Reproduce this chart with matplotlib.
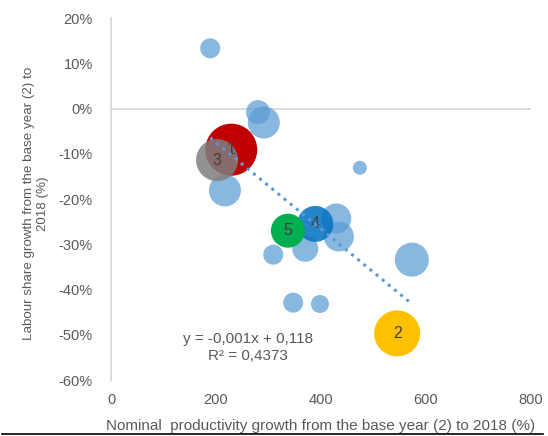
import numpy as np
import matplotlib.pyplot as plt
from matplotlib.lines import Line2D

plt.rcParams['font.family'] = ['Liberation Sans', 'DejaVu Sans']

# 名义生产率增长 (%) 与劳动份额增长
prod_growth = [189, 280, 291, 217, 474, 370, 309, 429, 434, 347, 398, 573]
labour_growth = [0.133, -0.008, -0.031, -0.181, -0.131, -0.310, -0.323,
                 -0.243, -0.283, -0.429, -0.432, -0.334]
bubble_size = [10, 12, 16, 16, 7, 13, 10, 15, 15, 10, 9, 17]

# 标注的国家 1-5
hl_labels = ['1', '3', '5', '4', '2']
hl_x = [229, 202, 337, 389, 545]
hl_y = [-0.091, -0.114, -0.270, -0.255, -0.497]
hl_size = [26, 21, 17, 18, 23]
hl_colors = ['#C00000', '#7F7F7F', '#00B050', '#0070C0', '#FFC000']
hl_alpha = [1.0, 0.85, 1.0, 0.85, 1.0]

# 趋势线
slope = -0.000956
intercept = 0.116

yticks = [-60, -50, -40, -30, -20, -10, 0, 10, 20]

fig = plt.figure(figsize=(5.48, 4.36), dpi=100)
ax = fig.add_axes([0.2026, 0.1284, 0.7664, 0.8303])


def to_s(r):
    return (2 * np.asarray(r) * 0.72) ** 2


ax.scatter(prod_growth, labour_growth, s=to_s(bubble_size), c='#5B9BD5',
           alpha=0.72, edgecolors='none', zorder=3)

order = [0, 1, 4, 3, 2]  # 绘制顺序
for i in order:
    ax.scatter(hl_x[i], hl_y[i], s=to_s(hl_size[i]), c=hl_colors[i],
               alpha=hl_alpha[i], edgecolors='none', zorder=4 + order.index(i))
    ax.text(hl_x[i], hl_y[i], hl_labels[i], ha='center', va='center',
            fontsize=11.5, color='#404040', zorder=10)

all_x = np.array(prod_growth + hl_x)
tx = np.array([all_x.min(), all_x.max()])
ax.plot(tx, slope * tx + intercept, ls=(0, (1, 1.6)), lw=2.2,
        color='#5B9BD5', zorder=11)

ax.text(261, -0.51, 'y = -0,001x + 0,118', ha='center', va='center',
        fontsize=11, color='#595959')
ax.text(261, -0.546, 'R² = 0,4373', ha='center', va='center',
        fontsize=11, color='#595959')

ax.set_xlim(0, 800)
ax.set_ylim(-0.6, 0.2)
ax.set_xticks([0, 200, 400, 600, 800])
ax.set_yticks([v / 100 for v in yticks])
ax.set_yticklabels(['{}%'.format(v) for v in yticks])
ax.axhline(0, color='#D9D9D9', lw=1.3, zorder=1)

for s in ['top', 'right', 'bottom']:
    ax.spines[s].set_visible(False)
ax.spines['left'].set_color('#D9D9D9')
ax.spines['left'].set_linewidth(1.3)
ax.tick_params(length=0, labelsize=10.5, colors='#595959')
ax.tick_params(axis='y', pad=13)
ax.tick_params(axis='x', pad=9)

ax.set_xlabel('Nominal  productivity growth from the base year (2) to 2018 (%)',
              fontsize=11, color='#595959', labelpad=9)
ax.set_ylabel('Labour share growth from the base year (2) to\n2018 (%)',
              fontsize=9.6, color='#595959', labelpad=7)
ax.yaxis.label.set_y(0.487)

fig.add_artist(Line2D([0.004, 0.99], [0.004, 0.004], color='black', lw=1.2))

plt.savefig('out.png')
